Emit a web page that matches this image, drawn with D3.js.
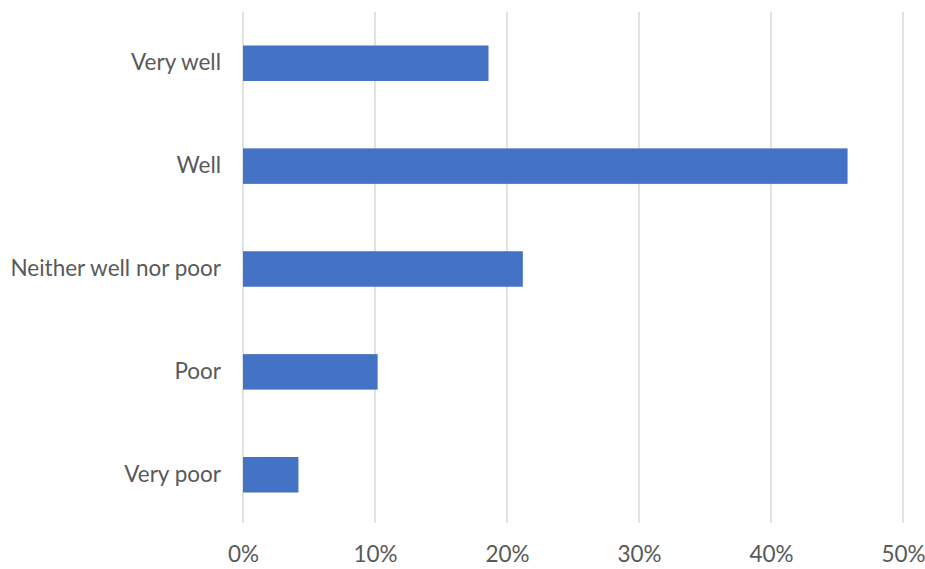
<!DOCTYPE html>
<html>
<head>
<meta charset="utf-8">
<script src="https://cdn.jsdelivr.net/npm/d3@7"></script>
<style>
  html, body { margin: 0; padding: 0; background: #fff; }
  svg text { font-family: Lato, "Open Sans", sans-serif; fill: #595959; }
</style>
</head>
<body>
<svg id="chart" width="925" height="569"></svg>
<script>
const categories = ["Very well", "Well", "Neither well nor poor", "Poor", "Very poor"];
const shares = [0.186, 0.458, 0.212, 0.102, 0.042];
const tickValues = [0, 0.1, 0.2, 0.3, 0.4, 0.5];

const svg = d3.select("#chart");
const plotLeft = 243, plotRight = 903, plotTop = 12, plotBottom = 523;

const x = d3.scaleLinear().domain([0, 0.5]).range([plotLeft, plotRight]);
const y = d3.scaleBand().domain(categories).range([11.8, 526.2])
  .paddingInner(0.655).paddingOuter(0.3275);

// vertical gridlines
svg.append("g").selectAll("line").data(tickValues).join("line")
  .attr("x1", d => x(d)).attr("x2", d => x(d))
  .attr("y1", plotTop).attr("y2", plotBottom)
  .attr("stroke", "#d9d9d9").attr("stroke-width", 1.5);

// bars
svg.append("g").selectAll("rect").data(categories).join("rect")
  .attr("x", x(0))
  .attr("y", (d) => y(d))
  .attr("width", (d, i) => x(shares[i]) - x(0))
  .attr("height", y.bandwidth())
  .attr("fill", "#4472C4");

// category labels
const yAxis = d3.axisLeft(y).tickSize(0).tickPadding(22);
const gy = svg.append("g").attr("transform", `translate(${plotLeft},0)`).call(yAxis);
gy.select(".domain").remove();
gy.selectAll("text").style("font-size", "22.5px").attr("fill", "#595959");

// percentage tick labels
const xAxis = d3.axisBottom(x).tickValues(tickValues).tickFormat(d3.format(".0%")).tickSize(0).tickPadding(23);
const gx = svg.append("g").attr("transform", `translate(0,${plotBottom})`).call(xAxis);
gx.select(".domain").remove();
gx.selectAll("text").style("font-size", "22.5px").attr("fill", "#595959");
</script>
</body>
</html>
